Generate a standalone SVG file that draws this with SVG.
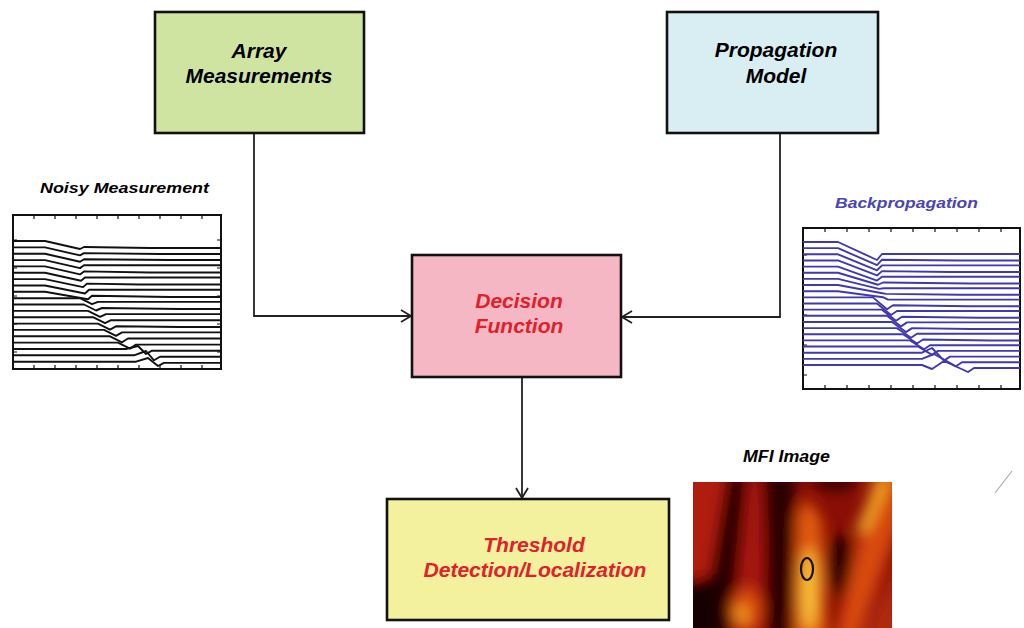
<svg xmlns="http://www.w3.org/2000/svg" width="1024" height="628" viewBox="0 0 1024 628">
<style>
.box{stroke:#111;stroke-width:2.6}
.lbl{font-family:"Liberation Sans",Arial,sans-serif;font-weight:bold;font-style:italic;font-size:21px;text-anchor:middle}
.cap{font-family:"Liberation Sans",Arial,sans-serif;font-weight:bold;font-style:italic}
.conn{fill:none;stroke:#222;stroke-width:1.8}
.frame{fill:#fff;stroke:#111;stroke-width:2}
.tick{stroke:#111;stroke-width:1.2;fill:none}
.ntr{fill:none;stroke:#111;stroke-width:1.9;stroke-linejoin:round}
.btr{fill:none;stroke:#4038b0;stroke-width:1.9;stroke-linejoin:round}
</style>
<defs>
<marker id="arr" markerUnits="userSpaceOnUse" markerWidth="14" markerHeight="16" refX="11" refY="7" orient="auto">
<path d="M1,1 L11,7 L1,13" fill="none" stroke="#222" stroke-width="1.8"/>
</marker>
<clipPath id="mfiClip"><rect x="693" y="482" width="199" height="146"/></clipPath>
<filter id="blur" filterUnits="userSpaceOnUse" x="650" y="440" width="290" height="230"><feGaussianBlur stdDeviation="7"/></filter>
</defs>
<rect width="1024" height="628" fill="#fff"/>

<g id="connectors">
<path class="conn" d="M254,133 V316 H411" marker-end="url(#arr)"/>
<path class="conn" d="M780,133 V317 H622" marker-end="url(#arr)"/>
<path class="conn" d="M522,377 V498" marker-end="url(#arr)"/>
</g>

<g id="array-measurements">
<rect class="box" x="155" y="12" width="209" height="121" fill="#d0e4a2"/>
<text class="lbl" x="259" y="58">Array</text>
<text class="lbl" x="259" y="83">Measurements</text>
</g>

<g id="propagation-model">
<rect class="box" x="667" y="12" width="211" height="121" fill="#d9eef3"/>
<text class="lbl" x="776" y="57">Propagation</text>
<text class="lbl" x="776" y="83">Model</text>
</g>

<g id="decision-function">
<rect class="box" x="412" y="255" width="209" height="122" fill="#f4b7c3"/>
<text class="lbl" x="519" y="308" fill="#e0202a">Decision</text>
<text class="lbl" x="519" y="333" fill="#e0202a">Function</text>
</g>

<g id="threshold">
<rect class="box" x="387" y="499" width="282" height="121" fill="#f3f19d"/>
<text class="lbl" x="534" y="552" fill="#e0202a">Threshold</text>
<text class="lbl" x="535" y="577" fill="#e0202a">Detection/Localization</text>
</g>

<g id="noisy-measurement">
<text class="cap" x="40" y="193" font-size="15" textLength="169" lengthAdjust="spacingAndGlyphs">Noisy Measurement</text>
<rect class="frame" x="13" y="215" width="208" height="154"/>
<path class="tick" d="M34,215v4M55,215v4M76,215v4M97,215v4M118,215v4M139,215v4M160,215v4M181,215v4M202,215v4M34,369v-4M55,369v-4M76,369v-4M97,369v-4M118,369v-4M139,369v-4M160,369v-4M181,369v-4M202,369v-4M13,240h4M13,268h4M13,296h4M13,324h4M13,352h4M221,240h-4M221,268h-4M221,296h-4M221,324h-4M221,352h-4"/>
<path class="ntr" d="M13,241 H45 L80,249 L84,247 L150,248 H221"/>
<path class="ntr" d="M13,247.4 H45 L80,255.4 L84,253.1 L160,254 H221"/>
<path class="ntr" d="M13,253.7 H45 L80,261.7 L84,259.2 L170,260 H221"/>
<path class="ntr" d="M13,260.1 H45 L80,268.1 L84,265.3 H221"/>
<path class="ntr" d="M13,266.4 H45 L80,274.4 L84,271.4 L150,272.5 H221"/>
<path class="ntr" d="M13,272.8 H45 L81,280.8 L85,277.5 H221"/>
<path class="ntr" d="M13,279.1 H45 L83,287.1 L87,283.6 L140,284.5 H221"/>
<path class="ntr" d="M13,285.5 H45 L85,293.5 L89,289.7 H221"/>
<path class="ntr" d="M13,291.8 H45 L88,299.3 L92,295.8 L170,297 H221"/>
<path class="ntr" d="M13,298.2 H80 L92,304.2 L98,301.9 H221"/>
<path class="ntr" d="M13,304.5 H84 L96,310.5 L102,308 L180,309 H221"/>
<path class="ntr" d="M13,310.9 H88 L100,316.9 L106,314.1 H221"/>
<path class="ntr" d="M13,317.2 H93 L105,323.2 L111,320.2 H221"/>
<path class="ntr" d="M13,323.6 H98 L110,329.6 L116,326.3 L180,327 H221"/>
<path class="ntr" d="M13,329.9 H104 L116,335.9 L122,332.4 H221"/>
<path class="ntr" d="M13,336.3 H110 L122,342.3 L128,338.5 H221"/>
<path class="ntr" d="M13,342.6 H118 L130,348.6 L136,344.6 H221"/>
<path class="ntr" d="M13,349 H126 L138,346 L146,354 L152,350.7 H221"/>
<path class="ntr" d="M13,355.3 H134 L146,351 L154,360.3 L160,356.8 H221"/>
<path class="ntr" d="M13,361.7 H136 L148,358 L158,366 L164,362.9 H221"/>
</g>

<g id="backpropagation">
<text class="cap" x="835" y="208" font-size="15" fill="#4a44b4" textLength="143" lengthAdjust="spacingAndGlyphs">Backpropagation</text>
<rect class="frame" x="803" y="228" width="217" height="161"/>
<path class="tick" d="M825,228v4M847,228v4M869,228v4M891,228v4M913,228v4M935,228v4M957,228v4M979,228v4M1001,228v4M825,389v-4M847,389v-4M869,389v-4M891,389v-4M913,389v-4M935,389v-4M957,389v-4M979,389v-4M1001,389v-4M803,255h4M803,285h4M803,315h4M803,345h4M803,375h4"/>
<path class="btr" d="M803,242 H838 L877,260 L882,254 H1020"/>
<path class="btr" d="M803,248.15 H838 L877,265.15 L882,259.7 L960,260.5 H1020"/>
<path class="btr" d="M803,254.3 H838 L877,270.3 L882,265.4 H1020"/>
<path class="btr" d="M803,260.45 H838 L877,275.45 L882,271.1 L950,272 H1020"/>
<path class="btr" d="M803,266.6 H838 L877,280.6 L882,276.8 H1020"/>
<path class="btr" d="M803,272.75 H838 L878,284.75 L883,282.5 L970,283.5 H1020"/>
<path class="btr" d="M803,278.9 H838 L879,288.9 L884,288.2 H1020"/>
<path class="btr" d="M803,285.05 H838 L881,293.05 L886,293.9 L960,294.8 H1020"/>
<path class="btr" d="M803,291.2 H838 L883,297.2 L888,299.6 H1020"/>
<path class="btr" d="M803,297.35 H873 L887,309.3 L893,305.3 L970,306.3 H1020"/>
<path class="btr" d="M803,303.5 H877 L891,315 L897,311 H1020"/>
<path class="btr" d="M803,309.65 H882 L896,320.7 L902,316.7 L980,317.7 H1020"/>
<path class="btr" d="M803,315.8 H887 L901,326.4 L907,322.4 H1020"/>
<path class="btr" d="M803,321.95 H892 L906,332.1 L912,328.1 L970,329 H1020"/>
<path class="btr" d="M803,328.1 H897 L911,337.8 L917,333.8 H1020"/>
<path class="btr" d="M803,334.25 H903 L917,343.5 L923,339.5 L990,340.5 H1020"/>
<path class="btr" d="M803,340.4 H910 L924,349.2 L930,345.2 H1020"/>
<path class="btr" d="M803,346.55 H918 L932,354.9 L938,350.9 H1020"/>
<path class="btr" d="M803,352.7 H922 L932,348 L944,360.6 L950,356.6 H1020"/>
<path class="btr" d="M803,358.85 H922 L934,354 L956,366.3 L962,362.3 H1020"/>
<path class="btr" d="M803,365 H922 L932,369 L944,361 L968,372 L974,368 H1020"/>
</g>

<g id="mfi-image">
<text class="cap" x="743" y="462" font-size="16" textLength="87" lengthAdjust="spacingAndGlyphs">MFI Image</text>
<g clip-path="url(#mfiClip)">
<rect x="693" y="482" width="199" height="146" fill="#8a0e06"/>
<g filter="url(#blur)">
<polygon points="680,470 730,470 718,570 680,585" fill="#b01c0a"/>
<polygon points="728,470 750,470 730,640 700,640" fill="#200200"/>
<rect x="680" y="580" width="35" height="60" fill="#140100"/>
<polygon points="748,470 766,470 762,640 732,640" fill="#a8180a"/>
<ellipse cx="746" cy="610" rx="16" ry="22" fill="#d8480c"/>
<ellipse cx="742" cy="614" rx="7" ry="9" fill="#f0a020"/>
<polygon points="762,470 795,470 792,640 768,640" fill="#2a0300"/>
<polygon points="797,515 807,498 822,520 828,640 794,640" fill="#e05a10"/>
<ellipse cx="809" cy="590" rx="9" ry="42" fill="#f8c038"/>
<ellipse cx="840" cy="565" rx="13" ry="32" fill="#300400"/>
<polygon points="835,640 858,640 900,520 900,470 875,470" fill="#d84a0e"/>
<polygon points="855,532 878,480 892,478 868,532" fill="#f0a828"/>
<ellipse cx="835" cy="482" rx="22" ry="9" fill="#3a0500"/>
<polygon points="862,640 900,640 900,560" fill="#b02a0c"/>
</g>
</g>
<ellipse cx="807" cy="569" rx="6" ry="11" fill="none" stroke="#111" stroke-width="2.2"/>
</g>

<path d="M995,493 L1012,471" stroke="#aaa" stroke-width="1.2" fill="none"/>
</svg>
